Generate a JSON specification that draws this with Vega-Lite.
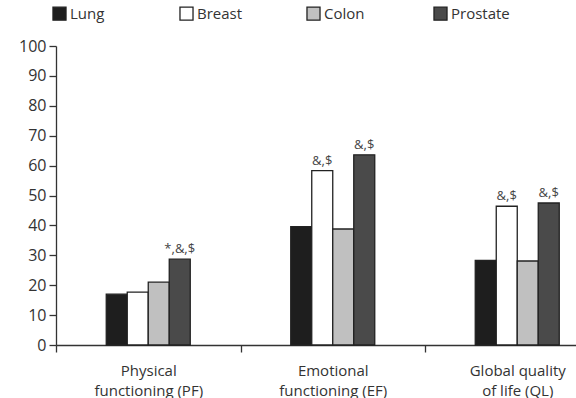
{
  "$schema": "https://vega.github.io/schema/vega-lite/v6.json",
  "autosize": "none",
  "padding": {"left": 56, "top": 46, "right": 0, "bottom": 53},
  "width": 553.5,
  "height": 299,
  "background": "white",
  "config": {
    "view": {"stroke": null},
    "font": "Open Sans",
    "axis": {"labelFont": "Open Sans", "labelColor": "#333", "domainColor": "#333", "tickColor": "#333", "domainWidth": 1.3, "tickWidth": 1.3, "grid": false}
  },
  "data": {
    "values": [
      {"domain": "Physical|functioning (PF)", "cancer": "Lung", "score": 17.0, "note": ""},
      {"domain": "Physical|functioning (PF)", "cancer": "Breast", "score": 17.7, "note": ""},
      {"domain": "Physical|functioning (PF)", "cancer": "Colon", "score": 21.0, "note": ""},
      {"domain": "Physical|functioning (PF)", "cancer": "Prostate", "score": 28.7, "note": "*,&,$"},
      {"domain": "Emotional|functioning (EF)", "cancer": "Lung", "score": 39.6, "note": ""},
      {"domain": "Emotional|functioning (EF)", "cancer": "Breast", "score": 58.3, "note": "&,$"},
      {"domain": "Emotional|functioning (EF)", "cancer": "Colon", "score": 38.8, "note": ""},
      {"domain": "Emotional|functioning (EF)", "cancer": "Prostate", "score": 63.6, "note": "&,$"},
      {"domain": "Global quality|of life (QL)", "cancer": "Lung", "score": 28.3, "note": ""},
      {"domain": "Global quality|of life (QL)", "cancer": "Breast", "score": 46.4, "note": "&,$"},
      {"domain": "Global quality|of life (QL)", "cancer": "Colon", "score": 28.1, "note": ""},
      {"domain": "Global quality|of life (QL)", "cancer": "Prostate", "score": 47.5, "note": "&,$"}
    ]
  },
  "encoding": {
    "x": {
      "field": "domain", "type": "nominal",
      "sort": ["Physical|functioning (PF)", "Emotional|functioning (EF)", "Global quality|of life (QL)"],
      "scale": {"paddingInner": 0, "paddingOuter": 0},
      "axis": {"title": null, "labelAngle": 0, "tickBand": "extent", "tickSize": 7, "labelPadding": 11, "labelFontSize": 15, "labelLineHeight": 20, "labelBaseline": "top", "labelExpr": "datum.value ? split(datum.value, '|') : ''"}
    },
    "xOffset": {"field": "cancer", "type": "nominal", "sort": ["Lung", "Breast", "Colon", "Prostate"], "scale": {"paddingInner": 0, "paddingOuter": 0, "range": [50.25, 134.25]}},
    "y": {
      "field": "score", "type": "quantitative",
      "scale": {"domain": [0, 100], "nice": false},
      "axis": {"title": null, "values": [0,10,20,30,40,50,60,70,80,90,100], "tickSize": 7, "labelPadding": 3, "labelFontSize": 16}
    }
  },
  "layer": [
    {
      "mark": {"type": "bar", "stroke": "#222", "strokeWidth": 1.3},
      "encoding": {
        "color": {
          "field": "cancer", "type": "nominal",
          "scale": {"domain": ["Lung", "Breast", "Colon", "Prostate"], "range": ["#1e1e1e", "#ffffff", "#c0c0c0", "#4a4a4a"]},
          "legend": {
            "title": null, "orient": "none", "legendX": -4, "legendY": -40, "direction": "horizontal",
            "columns": 4, "gridAlign": "all", "columnPadding": 48,
            "symbolType": "square", "symbolSize": 170, "symbolStrokeColor": "#222", "symbolStrokeWidth": 1.3,
            "labelFontSize": 15, "labelColor": "#333", "labelOffset": 3, "labelFont": "Open Sans"
          }
        }
      }
    },
    {
      "mark": {"type": "text", "baseline": "bottom", "dy": -3, "fontSize": 13, "color": "#444"},
      "encoding": {"text": {"field": "note"}}
    }
  ]
}
